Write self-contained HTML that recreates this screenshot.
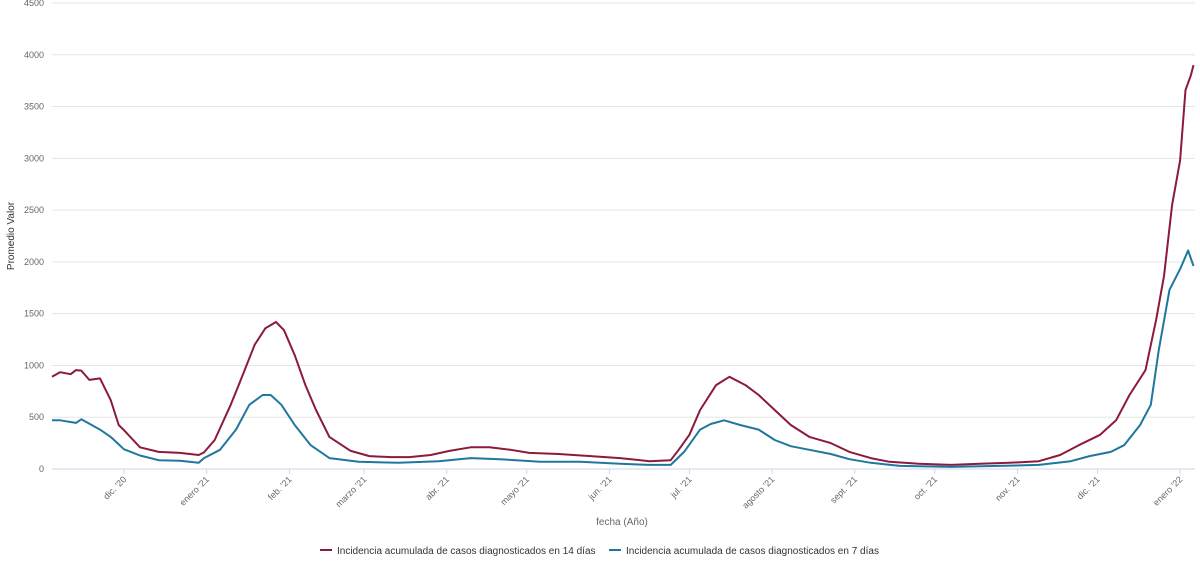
<!DOCTYPE html>
<html><head><meta charset="utf-8"><style>
body{margin:0;background:#fff;font-family:"Liberation Sans",sans-serif}
svg text{font-family:"Liberation Sans",sans-serif}
</style></head><body>
<svg id="chart" width="1200" height="565" xmlns="http://www.w3.org/2000/svg">
<g id="grid"></g>
<g id="yticks"></g>
<g id="xticks"></g>
<g id="series"></g>
<text x="0" y="0" transform="translate(14,236) rotate(-90)" text-anchor="middle" font-size="10" fill="#333">Promedio Valor</text>
<text x="622" y="525" text-anchor="middle" font-size="10" fill="#666">fecha (Año)</text>
<g>
<g><line x1="320" y1="550" x2="332" y2="550" stroke="#8b1a3c" stroke-width="2"/><text x="337" y="554" font-size="10" fill="#333">Incidencia acumulada de casos diagnosticados en 14 días</text></g>
<g><line x1="609" y1="550" x2="621" y2="550" stroke="#1f77a0" stroke-width="2"/><text x="626" y="554" font-size="10" fill="#333">Incidencia acumulada de casos diagnosticados en 7 días</text></g>
</g>
</svg>
<script>
const yTicks=[0,500,1000,1500,2000,2500,3000,3500,4000,4500];
const xTickDays=[0,31,62,90,121,151,182,212,243,274,304,335,365,396];
const xTickLabels=["dic. '20","enero '21","feb. '21","marzo '21","abr. '21","mayo '21","jun. '21","jul. '21","agosto '21","sept. '21","oct. '21","nov. '21","dic. '21","enero '22"];
const redDays=[-27,-24,-20,-18,-16,-13,-9,-5,-2,0,6,13,21,28,30,34,40,43,49,53,57,60,64,68,72,77,85,92,100,107,115,122,130,137,145,152,163,175,186,197,205,208,212,216,222,227,233,238,244,250,257,265,272,280,287,298,310,321,332,343,351,358,366,372,377,383,387,390,393,396,398,400,401];
const redVals=[890,935,915,955,950,860,875,665,425,375,210,165,155,135,160,280,620,810,1200,1360,1420,1340,1100,810,570,310,175,125,115,115,135,175,210,210,185,155,145,125,105,75,85,185,330,570,810,890,810,715,570,425,310,250,165,105,70,50,40,50,60,75,135,230,330,470,715,955,1440,1870,2550,2980,3660,3800,3900];
const blueDays=[-27,-24,-18,-16,-9,-5,0,6,13,21,28,30,36,42,47,52,55,59,64,70,77,88,103,118,130,141,156,171,186,197,205,210,216,220,225,231,238,244,250,257,265,272,280,291,310,328,343,355,362,370,375,381,385,388,392,396,399,401];
const blueVals=[470,470,445,480,380,310,190,130,85,80,60,105,185,380,620,715,715,620,425,230,105,70,60,75,105,95,70,70,50,40,40,165,380,435,470,425,380,280,220,185,145,95,60,30,20,30,40,75,125,165,230,425,620,1150,1730,1930,2110,1960];
const NS="http://www.w3.org/2000/svg";
const X0=124,PXD=2.667,Y0=469,PXV=(469-3)/4500;
function xs(d){return X0+d*PXD}
function ys(v){return Y0-v*PXV}
const grid=document.getElementById('grid'),yt=document.getElementById('yticks'),xt=document.getElementById('xticks'),ser=document.getElementById('series');
yTicks.forEach(v=>{
 const l=document.createElementNS(NS,'line');
 
 
 l.setAttribute('x1',52);l.setAttribute('x2',1195);l.setAttribute('y1',ys(v));l.setAttribute('y2',ys(v));
 l.setAttribute('stroke',v===0?'#ccd6eb':'#e6e6e6');l.setAttribute('stroke-width',1);
 grid.appendChild(l);
 const t=document.createElementNS(NS,'text');
 
 
 t.setAttribute('x',44);t.setAttribute('y',ys(v)+3);t.setAttribute('text-anchor','end');t.setAttribute('font-size','9');t.setAttribute('fill','#666');
 t.textContent=v;yt.appendChild(t);
});
xTickDays.forEach((d,i)=>{
 const x=xs(d);
 const l=document.createElementNS(NS,'line');
 
 
 l.setAttribute('x1',x);l.setAttribute('x2',x);l.setAttribute('y1',469);l.setAttribute('y2',474);l.setAttribute('stroke','#ccd6eb');
 xt.appendChild(l);
 const t=document.createElementNS(NS,'text');
 
 
 t.setAttribute('transform',`translate(${x+3},${480}) rotate(-45)`);t.setAttribute('text-anchor','end');t.setAttribute('font-size','9');t.setAttribute('fill','#666');
 t.textContent=xTickLabels[i];xt.appendChild(t);
});
function line(days,vals,color,name){
 const p=document.createElementNS(NS,'polyline');
 
 
 p.setAttribute('points',days.map((d,i)=>xs(d).toFixed(1)+','+ys(vals[i]).toFixed(1)).join(' '));
 p.setAttribute('fill','none');p.setAttribute('stroke',color);p.setAttribute('stroke-width',2);p.setAttribute('stroke-linejoin','round');
 ser.appendChild(p);
}
line(redDays,redVals,'#8b1a3c','line-14-dias');
line(blueDays,blueVals,'#1f77a0','line-7-dias');
</script>
</body></html>
